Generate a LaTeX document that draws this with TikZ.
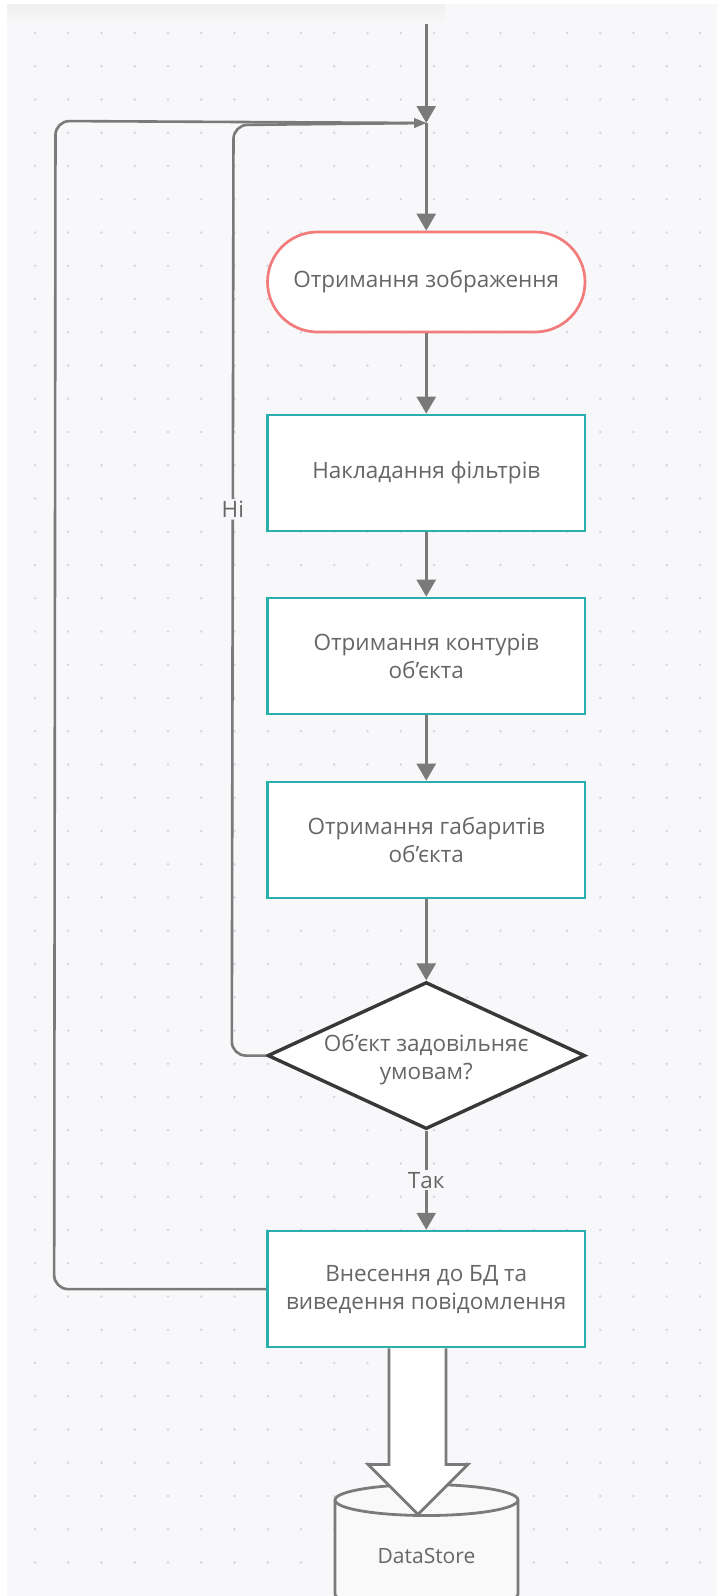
\documentclass[tikz,border=0pt]{standalone}
\usepackage{fontspec}
\setmainfont{Open Sans}
\usepackage{tikz}
\usetikzlibrary{arrows.meta,calc,positioning,shapes.geometric}
\pgfdeclarelayer{background}
\pgfsetlayers{background,main}
\definecolor{canvas}{HTML}{F8F8FA}
\definecolor{griddot}{HTML}{D6D6DB}
\definecolor{flowline}{HTML}{7A7A7A}
\definecolor{procline}{HTML}{2AB0AC}
\definecolor{termline}{HTML}{F27B7B}
\definecolor{decline}{HTML}{383838}
\definecolor{textgray}{HTML}{666666}
\definecolor{dbfill}{HTML}{F9F9F9}

\begin{document}
\begin{tikzpicture}[x=1pt,y=1pt,
    node distance=80.3pt,
    font=\fontsize{22.5}{28}\selectfont,
    box/.style={draw=procline,line width=2.7pt,fill=white,text=textgray,
                minimum width=317.5pt,minimum height=116pt,align=center,inner sep=0pt},
    term/.style={box,draw=termline,rounded corners=50pt,minimum height=100pt},
    cond/.style={diamond,draw=decline,line width=3.4pt,fill=white,
                 minimum width=317.5pt,minimum height=147pt,inner sep=0pt},
    flow/.style={draw=flowline,line width=2.6pt,-{Triangle[width=19pt,length=17pt]}},
    back/.style={draw=flowline,line width=2.6pt,rounded corners=14pt,
                 -{Triangle[width=9pt,length=12pt]}},
    lbl/.style={fill=canvas,text=textgray,inner sep=2pt},
    dbline/.style={draw=flowline,line width=2.8pt,fill=dbfill},
    bigarrow/.style={draw=flowline,line width=2.8pt,fill=white,line join=miter}
  ]
    \useasboundingbox (0,0) rectangle (717,-1596);
    \node[term] (start) at (426.25,-282) {Отримання зображення};
    \node[box,below=of start] (filt) {Накладання фільтрів};
    \node[box,below=64.3pt of filt] (cont) {Отримання контурів\\об'єкта};
    \node[box,below=65.3pt of cont] (size) {Отримання габаритів\\об'єкта};
    \node[cond,below=81pt of size,
          label={[text=textgray,align=center,yshift=-4pt]center:{Об'єкт задовільняє\\умовам?}}] (check) {};
    \node[box,below=99pt of check] (save) {Внесення до БД та\\виведення повідомлення};
    \node[text=textgray,font=\fontsize{21}{24}\selectfont] (store) at (426.5,-1556) {DataStore};
    \coordinate (top) at (426.25,-24);
    \coordinate (merge) at (426.25,-123);
    \draw[flow] (top) -- (merge);
    \draw[flow] (merge) -- (start);
    \draw[flow] (start) -- (filt);
    \draw[flow] (filt) -- (cont);
    \draw[flow] (cont) -- (size);
    \draw[flow] (size) -- (check);
    \draw[flow] (check) -- node[lbl]{Так} (save);
    \draw[back] (check.west) -- ++(-34,0) -- node[lbl,pos=0.587]{Ні} (233.5,-125) -- (merge);
    \draw[back] (save.west) -- ++(-212,0) -- (55.5,-121) -- (merge);
    % canvas, grid and the data store
    \begin{pgfonlayer}{background}
      \fill[white] (0,0) rectangle (717,-1596);
      \fill[canvas] (7,-4) rectangle (717,-1596);
      \shade[top color=black!6,bottom color=canvas] (7,-4) rectangle (445,-24);
      \foreach \i in {0,...,20}
        \foreach \j in {0,...,46}
          \fill[griddot] (35+33.25*\i,-33-33.25*\j) circle (1.3);
      \draw[dbline] ($(store)+(-91.5,56)$) -- ++(0,-94)
        arc[start angle=180,end angle=360,x radius=91.5,y radius=15.5] -- ++(0,94)
        arc[start angle=0,end angle=180,x radius=91.5,y radius=15.5] -- cycle;
      \draw[dbline,fill=none] ($(store)+(-91.5,56)$)
        arc[start angle=180,end angle=360,x radius=91.5,y radius=15.5];
      \draw[bigarrow] ($(save.south)+(-37.25,0)$) -- ++(0,-116) -- ++(-21,0)
        -- ($(save.south)+(-8.25,-166)$) -- ($(save.south)+(41.75,-116)$)
        -- ++(-22,0) -- ($(save.south)+(19.75,0)$);
    \end{pgfonlayer}
  \end{tikzpicture}
\end{document}
